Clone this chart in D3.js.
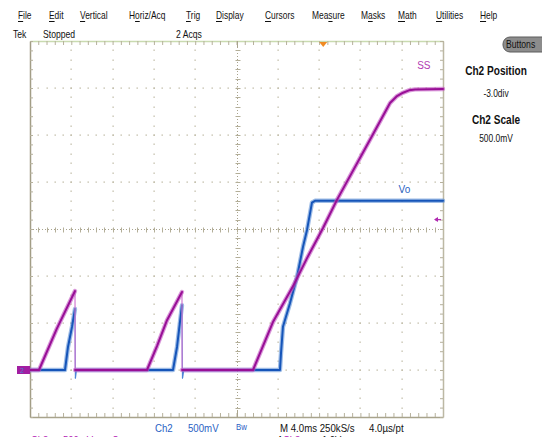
<!DOCTYPE html>
<html>
<head>
<meta charset="utf-8">
<script src="https://cdn.jsdelivr.net/npm/d3@7"></script>
<style>
  html, body { margin: 0; padding: 0; background: #ffffff; }
  svg { display: block; }
  text { font-family: "Liberation Sans", Arial, sans-serif; }
</style>
</head>
<body>
<svg id="scope" width="542" height="437"></svg>
<script>
// ---- Acquisition settings -------------------------------------------------
// Horizontal: 4.0 ms/div over 10 divisions; vertical: 500 mV/div over 8 divisions,
// Ch2 ground sits 3 divisions below the centre line.
const timeDomain = [0, 40];          // ms
const voltDomain = [-0.5, 3.5];      // V
const msPerDiv = 4;
const voltPerDiv = 0.5;
const minorPerDiv = 5;
const triggerTime = 28.4;            // ms, trigger position marker
const triggerLevel = 1.6;            // V, trigger level marker

// ---- Waveforms (time ms, volts). A third field "edge" marks a fast transition
// from the previous sample, drawn as a thin line.
const ssTrace = [
  [0, 0], [0.87, 0], [2.6, 0.44], [4.36, 0.84],
  [4.37, 0, "edge"], [11.33, 0], [12.3, 0.255], [13.27, 0.53], [14.72, 0.83],
  [14.73, 0, "edge"], [21.6, 0], [23.53, 0.51], [25.47, 0.89], [26.83, 1.19],
  [28.38, 1.51], [29.73, 1.81], [32.93, 2.45], [34.87, 2.84], [35.5, 2.91],
  [36.13, 2.95], [36.7, 2.975], [37.29, 2.985], [40, 2.99]
];
const voTrace = [
  [0, 0], [3.39, 0], [3.68, 0.245], [4.07, 0.46], [4.36, 0.65],
  [4.40, -0.085, "edge"], [4.5, 0, "edge"], [13.85, 0], [14.24, 0.245], [14.72, 0.69],
  [14.77, -0.085, "edge"], [14.9, 0, "edge"], [24.21, 0], [24.31, 0.18], [24.5, 0.46],
  [25.18, 0.71], [25.86, 0.99], [26.44, 1.31], [26.83, 1.49], [27.31, 1.78],
  [27.6, 1.80], [40, 1.80]
];

// ---- Text content ----------------------------------------------------------
const menuLabels  = ["File", "Edit", "Vertical", "Horiz/Acq", "Trig", "Display", "Cursors", "Measure", "Masks", "Math", "Utilities", "Help"];
const menuHotkeys = [0, 0, 0, 1, 0, 0, 0, 3, 1, 0, 0, 0];
const statusLabels = ["Tek", "Stopped", "2 Acqs"];
const sidePanel = [["Ch2 Position", "bold"], ["-3.0div", "normal"], ["Ch2 Scale", "bold"], ["500.0mV", "normal"]];
const readoutLabels = [["Ch2", "#2a62c4"], ["500mV", "#2a62c4"], ["Bw", "#2a62c4"], ["M 4.0ms 250kS/s", "#111"], ["4.0\u00b5s/pt", "#111"]];
const clippedLabels = [["Ch3", "#b422b4"], ["500mV", "#b422b4"], ["\u03a9", "#b422b4"], ["A", "#111"], ["Ch3", "#b422b4"], ["1.0V", "#111"]];

// ---- Layout ----------------------------------------------------------------
const plot = { left: 30, right: 443, top: 41, bottom: 417 };
const menuX = [18, 49, 80, 129, 186, 216, 265, 312, 361, 398, 436, 480];
const statusX = [13, 43, 176];
const sideY = [75, 97, 124, 142];
const readoutX = [155, 188, 236, 280, 369];
const clippedX = [31, 63, 112, 277, 283, 322];

const svg = d3.select("#scope");

// Condense a text horizontally (the instrument UI uses a narrow bitmap face)
function condense(sel, factor) {
  sel.each(function () {
    const w = this.getComputedTextLength();
    d3.select(this).attr("textLength", (w * factor).toFixed(1)).attr("lengthAdjust", "spacingAndGlyphs");
  });
}

const x = d3.scaleLinear().domain(timeDomain).range([plot.left, plot.right]);
const y = d3.scaleLinear().domain(voltDomain).range([plot.bottom, plot.top]);

const timeMajor = d3.range(0, 10 + 1).map(i => timeDomain[0] + i * msPerDiv);
const voltMajor = d3.range(0, 8 + 1).map(i => voltDomain[0] + i * voltPerDiv);
const timeMinor = d3.range(0, 10 * minorPerDiv + 1).map(i => timeDomain[0] + i * msPerDiv / minorPerDiv);
const voltMinor = d3.range(0, 8 * minorPerDiv + 1).map(i => voltDomain[0] + i * voltPerDiv / minorPerDiv);
const tCenter = (timeDomain[0] + timeDomain[1]) / 2;
const vCenter = (voltDomain[0] + voltDomain[1]) / 2;

// ---- Menu bar (hotkey letter underlined) -----------------------------------
const menuFactor = 0.8;
const menu = svg.append("g").attr("font-size", 10.5).attr("fill", "#111");
menuLabels.forEach((lab, i) => {
  const t = menu.append("text").attr("x", menuX[i]).attr("y", 19).text(lab);
  const node = t.node();
  const w = node.getComputedTextLength();
  const k = menuHotkeys[i];
  const pre = k > 0 ? node.getSubStringLength(0, k) : 0;
  const cw = node.getSubStringLength(k, 1);
  t.attr("textLength", (w * menuFactor).toFixed(1)).attr("lengthAdjust", "spacingAndGlyphs");
  menu.append("line")
    .attr("x1", menuX[i] + pre * menuFactor).attr("x2", menuX[i] + (pre + cw) * menuFactor)
    .attr("y1", 21.5).attr("y2", 21.5).attr("stroke", "#111").attr("stroke-width", 1);
});

const status = svg.append("g").attr("font-size", 10.5).attr("fill", "#111");
status.selectAll("text").data(statusLabels).join("text")
  .attr("x", (d, i) => statusX[i]).attr("y", 38).text(d => d);
condense(status.selectAll("text"), 0.82);

// "Buttons" pill
svg.append("rect").attr("x", 503).attr("y", 37).attr("width", 46).attr("height", 15)
  .attr("rx", 7).attr("fill", "#8c8c8c").attr("stroke", "#5c5c5c");
const btn = svg.append("text").attr("x", 506).attr("y", 48).attr("font-size", 10.5).attr("fill", "#111").text("Buttons");
condense(btn, 0.82);

// Side panel
const side = svg.append("g");
side.selectAll("text").data(sidePanel).join("text")
  .attr("x", 496).attr("y", (d, i) => sideY[i]).attr("text-anchor", "middle")
  .attr("font-size", d => d[1] === "bold" ? 12 : 10)
  .attr("font-weight", d => d[1])
  .attr("fill", "#111").text(d => d[0]);
condense(side.selectAll("text"), 0.84);

// ---- Graticule -------------------------------------------------------------
const grid = svg.append("g");
const dotColor = "#bdb8a2";
// dotted minor points along each major line (centre lines drawn separately)
timeMajor.filter(t => t > timeDomain[0] && t < timeDomain[1] && t !== tCenter).forEach(t => {
  grid.append("g").selectAll("rect").data(voltMinor.slice(1, -1)).join("rect")
    .attr("x", Math.round(x(t)) - 0.5).attr("y", v => Math.round(y(v)) - 0.5)
    .attr("width", 1.2).attr("height", 1.4).attr("fill", dotColor);
});
voltMajor.filter(v => v > voltDomain[0] && v < voltDomain[1] && v !== vCenter).forEach(v => {
  grid.append("g").selectAll("rect").data(timeMinor.slice(1, -1)).join("rect")
    .attr("x", t => Math.round(x(t)) - 0.5).attr("y", Math.round(y(v)) - 0.5)
    .attr("width", 1.4).attr("height", 1.2).attr("fill", dotColor);
});
// centre cross: fine dotted line with minor ticks
const cx = Math.round(x(tCenter)) + 0.5, cy = Math.round(y(vCenter)) + 0.5;
grid.append("line").attr("x1", cx).attr("x2", cx).attr("y1", plot.top).attr("y2", plot.bottom)
  .attr("stroke", "#a9a48e").attr("stroke-dasharray", "1,2");
grid.append("line").attr("y1", cy).attr("y2", cy).attr("x1", plot.left).attr("x2", plot.right)
  .attr("stroke", "#a9a48e").attr("stroke-dasharray", "1,2");
grid.append("g").selectAll("line").data(voltMinor.slice(1, -1)).join("line")
  .attr("x1", cx - 2).attr("x2", cx + 3).attr("y1", v => Math.round(y(v)) + 0.5).attr("y2", v => Math.round(y(v)) + 0.5)
  .attr("stroke", "#b3ae98");
grid.append("g").selectAll("line").data(timeMinor.slice(1, -1)).join("line")
  .attr("y1", cy - 2).attr("y2", cy + 3).attr("x1", t => Math.round(x(t)) + 0.5).attr("x2", t => Math.round(x(t)) + 0.5)
  .attr("stroke", "#b3ae98");

// ---- Frame with minor ticks (drawn with d3 axes) ---------------------------
function frame(axis, tx, ty, color, width) {
  const g = svg.append("g").attr("transform", `translate(${tx},${ty})`)
    .call(axis.tickSizeOuter(0).tickFormat(""));
  g.select(".domain").attr("stroke", color).attr("stroke-width", width);
  g.selectAll(".tick line").attr("stroke", "#b6b19c");
  return g;
}
frame(d3.axisBottom(x).tickValues(timeMinor).tickSize(4), 0, plot.top, "#c9dbb0", 1.5);
frame(d3.axisTop(x).tickValues(timeMinor).tickSize(4), 0, plot.bottom, "#a8a38c", 1.5);
frame(d3.axisRight(y).tickValues(voltMinor).tickSize(3), plot.left, 0, "#a29d86", 1.5);
frame(d3.axisLeft(y).tickValues(voltMinor).tickSize(3), plot.right, 0, "#bcb8a4", 1.5);
// longer centre ticks on the top and bottom rulers
svg.append("line").attr("x1", cx).attr("x2", cx).attr("y1", plot.top).attr("y2", plot.top + 7).attr("stroke", "#a9a48e");
svg.append("line").attr("x1", cx).attr("x2", cx).attr("y1", plot.bottom - 7).attr("y2", plot.bottom).attr("stroke", "#a9a48e");

// ---- Traces ----------------------------------------------------------------
const line = d3.line().x(d => x(d[0])).y(d => y(d[1]));

function splitTrace(points) {
  const runs = [], edges = [];
  let cur = [points[0]];
  for (let i = 1; i < points.length; i++) {
    const p = points[i];
    if (p[2] === "edge") {
      edges.push([points[i - 1], p]);
      if (cur.length > 1) runs.push(cur);
      cur = [p];
    } else cur.push(p);
  }
  if (cur.length > 1) runs.push(cur);
  return { runs, edges };
}

function drawTrace(points, halo, core, edgeColor) {
  const { runs, edges } = splitTrace(points);
  const g = svg.append("g").attr("fill", "none").attr("stroke-linejoin", "round").attr("stroke-linecap", "round");
  g.selectAll("path.edge").data(edges).join("path").attr("class", "edge")
    .attr("d", line).attr("stroke", edgeColor).attr("stroke-width", 1.2);
  g.selectAll("path.halo").data(runs).join("path").attr("class", "halo")
    .attr("d", line).attr("stroke", halo).attr("stroke-width", 4.4).attr("stroke-opacity", 0.6);
  g.selectAll("path.core").data(runs).join("path").attr("class", "core")
    .attr("d", line).attr("stroke", core).attr("stroke-width", 2);
}

drawTrace(voTrace, "#5d8fd6", "#1655b9", "#4f86d6");
drawTrace(ssTrace, "#c052bf", "#980f96", "#d27ad2");

// Trace labels
svg.append("text").attr("x", x(37.5)).attr("y", y(3.2)).attr("font-size", 10).attr("fill", "#b23ab2").text("SS");
svg.append("text").attr("x", x(35.7)).attr("y", y(1.88)).attr("font-size", 10).attr("fill", "#2a62c4").text("Vo");

// Ch2 ground marker on the left edge
svg.append("rect").attr("x", 17).attr("y", y(0) - 4).attr("width", 13).attr("height", 8).attr("fill", "#a21ea2");
svg.append("text").attr("x", 20).attr("y", y(0) + 3).attr("font-size", 7).attr("fill", "#4f7fd0").text("2");

// Trigger level arrow (right edge) and trigger position marker (top ruler)
const ty = y(triggerLevel);
svg.append("line").attr("x1", plot.right - 8).attr("x2", plot.right - 2).attr("y1", ty).attr("y2", ty).attr("stroke", "#b02ab0").attr("stroke-width", 1.3);
svg.append("path").attr("d", `M${plot.right - 9},${ty} l4,-2.5 v5 z`).attr("fill", "#b02ab0");
const tx = x(triggerTime);
svg.append("path").attr("d", `M${tx - 4},${plot.top + 1} h8 l-4,5 z`).attr("fill", "#f08a22");

// ---- Readouts below the graticule ------------------------------------------
const readouts = svg.append("g");
readouts.selectAll("text").data(readoutLabels).join("text")
  .attr("x", (d, i) => readoutX[i]).attr("y", (d, i) => i === 2 ? 430 : 432)
  .attr("font-size", (d, i) => i === 2 ? 8.5 : 10.5)
  .attr("fill", d => d[1]).text(d => d[0]);
condense(readouts.selectAll("text"), 0.92);

// second readout row, mostly below the visible area
const lower = svg.append("g");
lower.selectAll("text").data(clippedLabels).join("text")
  .attr("x", (d, i) => clippedX[i]).attr("y", 444)
  .attr("font-size", 10.5).attr("fill", d => d[1]).text(d => d[0]);
condense(lower.selectAll("text"), 0.9);
</script>
</body>
</html>
